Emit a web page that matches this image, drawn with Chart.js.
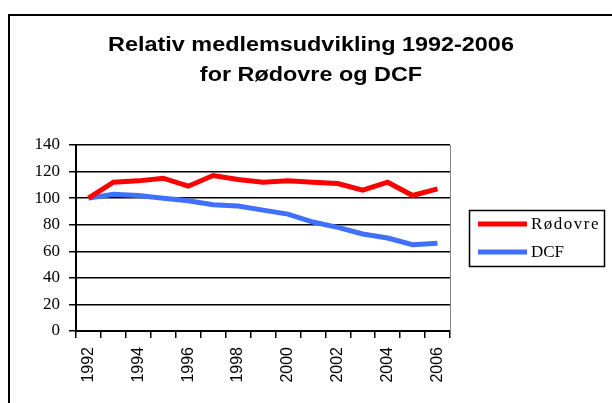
<!DOCTYPE html>
<html>
<head>
<meta charset="utf-8">
<script src="https://cdn.jsdelivr.net/npm/chart.js@4"></script>
<style>
  html, body { margin: 0; padding: 0; background: #fff; overflow: hidden; }
  #wrap { position: relative; width: 612px; height: 403px; }
  #frame { position: absolute; left: 8px; top: 14px; width: 700px; height: 500px; border: 2px solid #000; }
  #title {
    position: absolute; left: 5px; width: 612px; top: 29px;
    text-align: center; font: bold 20px "Liberation Sans", Arial, sans-serif;
    line-height: 30px; color: #000;
    transform: scaleX(1.17); transform-origin: 306px 0;
  }
  canvas { position: absolute; left: 0; top: 0; }
</style>
</head>
<body>
<div id="wrap">
  <div id="frame"></div>
  <canvas id="c" width="612" height="403"></canvas>
  <div id="title">Relativ medlemsudvikling 1992-2006<br>for Rødovre og DCF</div>
</div>
<script>
const years = ["1992", "1993", "1994", "1995", "1996", "1997", "1998", "1999",
               "2000", "2001", "2002", "2003", "2004", "2005", "2006"];
const rodovre = [100, 112, 113, 115, 109, 117, 114, 112, 113, 112, 111, 106, 112, 102, 107];
const dcf = [100, 103, 102, 100, 98, 95, 94, 91, 88, 82, 78, 73, 70, 65, 66];
const seriesNames = ["Rødovre", "DCF"];
const seriesColors = ["#ff0000", "#4070ff"];

// legend box drawn by hand, Excel style, to the right of the plot
const boxLegend = {
  id: "boxLegend",
  afterDraw(chart) {
    const ctx = chart.ctx;
    ctx.save();
    ctx.strokeStyle = "#000";
    ctx.lineWidth = 1.5;
    ctx.strokeRect(469.5, 210.5, 135, 56);
    ctx.font = '17px "Liberation Serif", "Times New Roman", serif';
    ctx.textBaseline = "middle";
    chart.data.datasets.forEach((ds, i) => {
      const y = 224 + i * 28;
      ctx.strokeStyle = ds.borderColor;
      ctx.lineWidth = 5;
      ctx.beginPath();
      ctx.moveTo(478, y);
      ctx.lineTo(527, y);
      ctx.stroke();
      ctx.fillStyle = "#000";
      ctx.letterSpacing = i === 0 ? "1.5px" : "0px";
      ctx.fillText(ds.label, 531, y + 1);
    });
    // grey right edge of the plot area
    const a = chart.chartArea;
    ctx.strokeStyle = "#888";
    ctx.lineWidth = 1;
    ctx.beginPath();
    ctx.moveTo(a.right + 0.5, a.top);
    ctx.lineTo(a.right + 0.5, a.bottom);
    ctx.stroke();
    ctx.restore();
  },
};

new Chart(document.getElementById("c"), {
  type: "line",
  data: {
    labels: years,
    datasets: [
      { label: seriesNames[0], data: rodovre, borderColor: seriesColors[0], borderWidth: 5, pointRadius: 0, tension: 0 },
      { label: seriesNames[1], data: dcf, borderColor: seriesColors[1], borderWidth: 5, pointRadius: 0, tension: 0 },
    ],
  },
  options: {
    responsive: false,
    animation: false,
    layout: { padding: { top: 145, right: 162, bottom: 0, left: 0 } },
    plugins: { legend: { display: false }, title: { display: false }, tooltip: { enabled: false } },
    scales: {
      x: {
        offset: true,
        afterFit(scale) { scale.height = 72; },
        grid: { offset: true, drawOnChartArea: false, drawTicks: true, tickLength: 7, color: "#000", lineWidth: 1.5 },
        border: { color: "#000", width: 2 },
        ticks: {
          autoSkip: false, maxRotation: 90, minRotation: 90, padding: 9, color: "#000",
          font: { family: '"Liberation Sans", Arial, sans-serif', size: 16 },
          callback(v, i) { return i % 2 === 0 ? years[i] : ""; },
        },
      },
      y: {
        min: 0, max: 140,
        afterFit(scale) { scale.width = 76; },
        grid: { color: "#000", lineWidth: 1.5, tickLength: 7 },
        border: { color: "#000", width: 2 },
        ticks: {
          stepSize: 20, padding: 9, color: "#000",
          font: { family: '"Liberation Serif", "Times New Roman", serif', size: 17 },
        },
      },
    },
  },
  plugins: [boxLegend],
});
</script>
</body>
</html>
